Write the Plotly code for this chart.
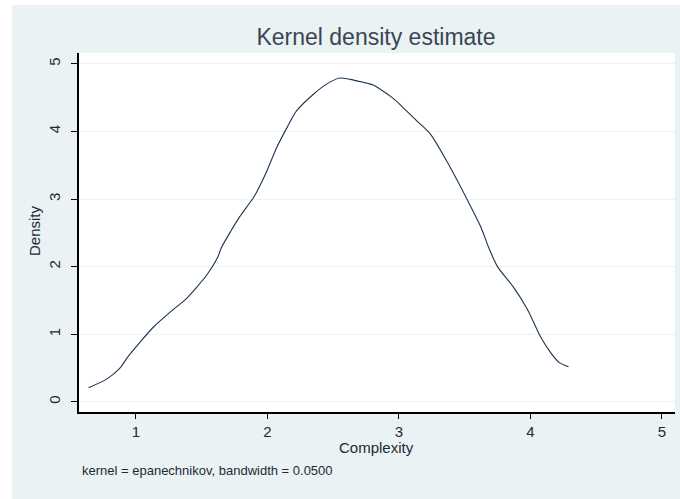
import plotly.graph_objects as go

complexity = [0.64, 0.78, 0.878, 0.94, 1.03, 1.13, 1.28, 1.38, 1.46, 1.54, 1.62, 1.65, 1.72, 1.79, 1.90,
              1.99, 2.07, 2.15, 2.22, 2.35, 2.45, 2.55, 2.63, 2.72, 2.80, 2.95, 3.05, 3.14, 3.24,
              3.37, 3.52, 3.62, 3.69, 3.75, 3.87, 3.98, 4.07, 4.15, 4.22, 4.29]
density = [0.21, 0.34, 0.50, 0.67, 0.88, 1.10, 1.36, 1.52, 1.69, 1.88, 2.13, 2.28, 2.52, 2.74, 3.04,
           3.39, 3.76, 4.06, 4.30, 4.55, 4.70, 4.79, 4.77, 4.73, 4.69, 4.50, 4.32, 4.15, 3.96,
           3.54, 2.99, 2.60, 2.25, 2.00, 1.70, 1.36, 0.99, 0.74, 0.58, 0.52]

x_ticks = [1, 2, 3, 4, 5]
y_ticks = [0, 1, 2, 3, 4, 5]

title_text = "Kernel density estimate"
x_title = "Complexity"
y_title = "Density"
note_text = "kernel = epanechnikov, bandwidth = 0.0500"

BG = "#eaf2f3"
TXT = "#1e2a36"
FONT = "Liberation Sans, Arial, sans-serif"

fig = go.Figure()
fig.add_trace(go.Scatter(x=complexity, y=density, mode="lines",
                         line=dict(color="#1c3450", width=1.1, shape="spline", smoothing=0.7),
                         showlegend=False, hoverinfo="skip"))

W, H = 680, 499
L, R, T, B = 79, 5, 53, 87
pw, ph = W - L - R, H - T - B

def px_x(p):
    return (p - L) / pw

def px_y(p):
    return (H - B - p) / ph

shapes = [
    dict(type="rect", xref="paper", yref="paper", x0=px_x(0), x1=px_x(12), y0=px_y(H), y1=px_y(0),
         fillcolor="white", line=dict(width=0), layer="below"),
    dict(type="rect", xref="paper", yref="paper", x0=px_x(0), x1=px_x(W), y0=px_y(5), y1=px_y(0),
         fillcolor="white", line=dict(width=0), layer="below"),
]

annotations = [
    dict(text=note_text, xref="paper", yref="paper", x=px_x(80), y=px_y(470),
         xanchor="left", yanchor="middle", showarrow=False,
         font=dict(size=13, color=TXT)),
    dict(text=x_title, xref="paper", yref="paper", x=px_x(376), y=px_y(447),
         xanchor="center", yanchor="middle", showarrow=False,
         font=dict(size=15, color=TXT)),
    dict(text=y_title, xref="paper", yref="paper", x=px_x(35), y=px_y(231),
         xanchor="center", yanchor="middle", showarrow=False, textangle=-90,
         font=dict(size=15, color=TXT)),
]

fig.update_layout(
    width=W, height=H,
    margin=dict(l=L, r=R, t=T, b=B),
    paper_bgcolor=BG, plot_bgcolor="white",
    font=dict(family=FONT, color=TXT, size=15),
    title=dict(text=title_text, x=376 / W, xanchor="center",
               y=1 - 37 / H, yanchor="middle", font=dict(size=23, color="#3a4654")),
    shapes=shapes,
    annotations=annotations,
    xaxis=dict(range=[0.567, 5.1], tickvals=x_ticks, ticks="outside", ticklen=5, tickwidth=1,
               tickcolor="black", showline=True, linecolor="black", linewidth=1.5,
               showgrid=False, zeroline=False, tickfont=dict(size=15, color=TXT)),
    yaxis=dict(range=[-0.15, 5.16], tickvals=y_ticks, ticks="outside", ticklen=6, tickwidth=1,
               tickcolor="black", showline=True, linecolor="black", linewidth=1.5,
               showgrid=True, gridcolor=BG, gridwidth=1, zeroline=False, tickangle=-90,
               ticklabelstandoff=5, tickfont=dict(size=15, color=TXT)),
)

fig.write_html("out.html")
